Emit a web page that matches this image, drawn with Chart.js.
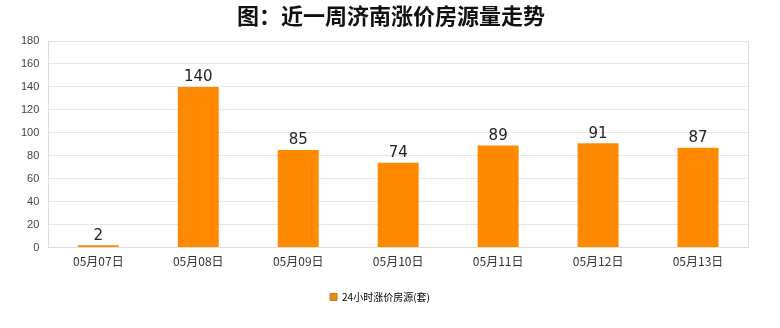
<!DOCTYPE html>
<html><head><meta charset="utf-8">
<script src="https://cdn.jsdelivr.net/npm/chart.js@4/dist/chart.umd.min.js"></script>
<style>html,body{margin:0;padding:0;background:#fff;}#wrap{width:780px;height:328px;position:relative;}</style>
</head><body><div id="wrap"><canvas id="c" width="780" height="328"></canvas></div>
<script>
const categories = ["05月07日","05月08日","05月09日","05月10日","05月11日","05月12日","05月13日"];
const values = [2,140,85,74,89,91,87];
const seriesName = "24小时涨价房源(套)";
const titleText = "图：近一周济南涨价房源量走势";

const labelPlugin = {
  id: 'vals',
  afterDatasetsDraw(chart) {
    const ctx = chart.ctx;
    const meta = chart.getDatasetMeta(0);
    ctx.save();
    ctx.font = '15px "DejaVu Sans", sans-serif';
    ctx.fillStyle = '#222';
    ctx.textAlign = 'center';
    ctx.textBaseline = 'bottom';
    meta.data.forEach((bar, i) => {
      ctx.fillText(String(values[i]), bar.x, bar.y - 2);
    });
    ctx.restore();
  }
};

const titlePlugin = {
  id: 'centerTitle',
  afterDraw(chart) {
    const ctx = chart.ctx;
    ctx.save();
    ctx.font = 'bold 22px "Noto Sans CJK SC", sans-serif';
    ctx.fillStyle = '#111';
    ctx.textAlign = 'center';
    ctx.textBaseline = 'middle';
    ctx.fillText(titleText, chart.width / 2 + 1, 16);
    ctx.restore();
  }
};

new Chart(document.getElementById('c'), {
  type: 'bar',
  data: {
    labels: categories,
    datasets: [{
      label: seriesName,
      data: values,
      backgroundColor: '#ff8a00',
      borderWidth: 0,
      categoryPercentage: 1,
      barPercentage: 0.41
    }]
  },
  options: {
    responsive: false,
    animation: false,
    layout: { padding: { left: 12, right: 32, top: 41, bottom: 16 } },
    plugins: {
      title: { display: false },
      legend: {
        position: 'bottom',
        labels: {
          boxWidth: 7, boxHeight: 7, color: '#333', padding: 16,
          font: { family: '"Noto Sans CJK SC", sans-serif', size: 10 },
          generateLabels(chart) {
            return [{ text: seriesName, fillStyle: '#e88a1a', strokeStyle: '#c97a20', lineWidth: 1, datasetIndex: 0 }];
          }
        }
      },
      tooltip: { enabled: false }
    },
    scales: {
      x: {
        grid: { display: false, drawTicks: false },
        border: { color: '#ddd' },
        ticks: { color: '#333', font: { family: '"Noto Sans CJK SC", sans-serif', size: 12 }, padding: 7 }
      },
      y: {
        min: 0, max: 180,
        ticks: { stepSize: 20, color: '#444', font: { family: '"Liberation Sans", sans-serif', size: 11 }, padding: 9 },
        grid: { color: '#e6e6e6', drawTicks: false },
        border: { display: false }
      }
    }
  },
  plugins: [labelPlugin, titlePlugin, {
    id: 'rightBorder',
    afterDraw(chart) {
      const a = chart.chartArea, ctx = chart.ctx;
      ctx.save(); ctx.strokeStyle = '#ddd'; ctx.lineWidth = 1;
      ctx.beginPath(); ctx.moveTo(Math.round(a.right)+0.5, a.top); ctx.lineTo(Math.round(a.right)+0.5, a.bottom); ctx.stroke();
      ctx.beginPath(); ctx.moveTo(Math.round(a.left)+0.5, a.top); ctx.lineTo(Math.round(a.left)+0.5, a.bottom); ctx.stroke();
      ctx.restore();
    }
  }]
});
</script></body></html>
